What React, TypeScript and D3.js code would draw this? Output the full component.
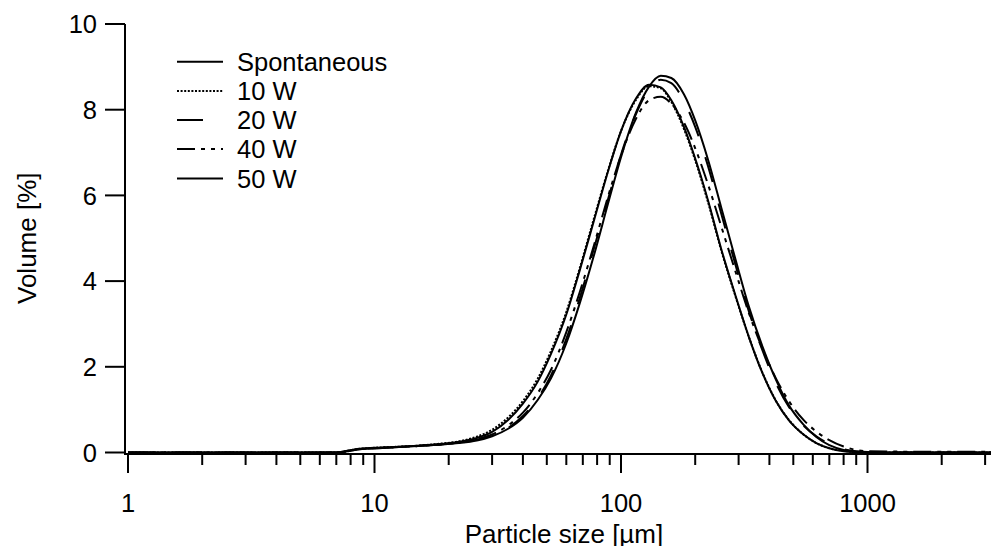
import React from "react";
import * as d3 from "d3";

const sizes = [1, 2, 4, 6, 7, 7.6, 8.5, 10, 12, 15, 18, 22, 26, 30, 35, 40, 46, 52, 60, 68, 78, 89, 100, 115, 130, 145, 160, 180, 200, 225, 255, 290, 330, 375, 425, 480, 550, 620, 700, 800, 900, 1000, 1500, 2000, 3000, 3500];

const spontaneous = [0, 0, 0, 0, 0, 0.03, 0.08, 0.11, 0.13, 0.16, 0.19, 0.25, 0.34, 0.48, 0.77, 1.14, 1.66, 2.3, 3.22, 4.25, 5.45, 6.6, 7.5, 8.26, 8.58, 8.52, 8.22, 7.6, 6.86, 5.9, 4.75, 3.7, 2.7, 1.85, 1.2, 0.75, 0.42, 0.22, 0.1, 0.03, 0.01, 0, 0, 0, 0, 0];
const w10 = [0, 0, 0, 0, 0, 0.03, 0.08, 0.11, 0.13, 0.16, 0.2, 0.26, 0.37, 0.53, 0.83, 1.2, 1.73, 2.37, 3.28, 4.3, 5.5, 6.62, 7.5, 8.23, 8.55, 8.5, 8.18, 7.55, 6.82, 5.86, 4.72, 3.68, 2.7, 1.86, 1.21, 0.76, 0.42, 0.22, 0.1, 0.04, 0.01, 0, 0, 0, 0, 0];
const w20 = [0, 0, 0, 0, 0, 0.02, 0.07, 0.1, 0.12, 0.15, 0.18, 0.22, 0.3, 0.4, 0.58, 0.85, 1.27, 1.8, 2.65, 3.6, 4.8, 5.95, 6.95, 7.9, 8.48, 8.7, 8.62, 8.2, 7.6, 6.7, 5.58, 4.42, 3.3, 2.38, 1.62, 1.06, 0.63, 0.38, 0.2, 0.08, 0.03, 0.01, 0, 0, 0, 0];
const w40 = [0, 0, 0, 0, 0, 0.02, 0.07, 0.1, 0.12, 0.15, 0.18, 0.23, 0.31, 0.42, 0.64, 0.93, 1.39, 1.93, 2.81, 3.74, 4.87, 6.01, 6.93, 7.79, 8.22, 8.3, 8.14, 7.7, 7.1, 6.27, 5.28, 4.26, 3.26, 2.42, 1.73, 1.2, 0.76, 0.49, 0.29, 0.14, 0.06, 0.03, 0.02, 0.02, 0.02, 0.02];
const w50 = [0, 0, 0, 0, 0, 0.02, 0.07, 0.1, 0.12, 0.15, 0.18, 0.22, 0.28, 0.38, 0.56, 0.81, 1.23, 1.73, 2.55, 3.48, 4.64, 5.85, 6.89, 7.93, 8.54, 8.79, 8.74, 8.36, 7.75, 6.85, 5.72, 4.55, 3.41, 2.47, 1.7, 1.1, 0.65, 0.36, 0.17, 0.06, 0.02, 0, 0, 0, 0, 0];

const seriesNames = ["Spontaneous", "10 W", "20 W", "40 W", "50 W"];
const seriesValues = [spontaneous, w10, w20, w40, w50];
const dashes = ["none", "2,1.6", "26,22", "18,6,4,6,4,6", "none"];

const yTicks = [0, 2, 4, 6, 8, 10];
const xMajor = [1, 10, 100, 1000];

const W = 991;
const H = 546;
const FONT = "'Liberation Sans', Arial, sans-serif";

export default function App() {
  const x = d3.scaleLog().domain([1, 1000]).range([128, 867.5]);
  const y = d3.scaleLinear().domain([0, 10]).range([452.5, 24]);
  const axisY = 454;
  const axisX = 125;

  const minor: number[] = [];
  for (const dec of [1, 10, 100, 1000]) {
    for (let k = 2; k <= 9; k++) {
      const v = dec * k;
      if (x(v) <= W) minor.push(v);
    }
  }

  const line = d3
    .line<[number, number]>()
    .x((d) => x(d[0]))
    .y((d) => y(d[1]))
    .curve(d3.curveMonotoneX);

  const legendY = [61.7, 91, 120, 149, 178.5];

  return (
    <svg
      width={W}
      height={H}
      style={{ position: "fixed", left: 0, top: 0, background: "#fff" }}
      fontFamily={FONT}
    >
      <rect x={0} y={0} width={W} height={H} fill="#fff" />
      {seriesValues.map((vals, i) => (
        <path
          key={seriesNames[i]}
          d={line(sizes.map((s, j) => [s, vals[j]] as [number, number])) || ""}
          fill="none"
          stroke="#000"
          strokeWidth={2}
          strokeDasharray={dashes[i]}
        />
      ))}
      <line x1={axisX} x2={axisX} y1={y(10)} y2={axisY + 1} stroke="#000" strokeWidth={2} />
      <line x1={axisX - 1} x2={W} y1={axisY} y2={axisY} stroke="#000" strokeWidth={2} />
      {yTicks.map((t) => (
        <g key={t}>
          <line x1={105} x2={axisX} y1={y(t)} y2={y(t)} stroke="#000" strokeWidth={2} />
          <text x={97} y={y(t)} dy="0.36em" textAnchor="end" fontSize={25.5}>
            {t}
          </text>
        </g>
      ))}
      {xMajor.map((t) => (
        <g key={t}>
          <line x1={x(t)} x2={x(t)} y1={axisY} y2={473} stroke="#000" strokeWidth={2} />
          <text x={x(t)} y={511.5} textAnchor="middle" fontSize={25.5}>
            {t}
          </text>
        </g>
      ))}
      {minor.map((t) => (
        <line key={t} x1={x(t)} x2={x(t)} y1={axisY} y2={465} stroke="#000" strokeWidth={2} />
      ))}
      <text x={564} y={543} textAnchor="middle" fontSize={26}>
        Particle size [µm]
      </text>
      <text
        transform={`translate(35.5, ${(y(10) + y(0)) / 2}) rotate(-90)`}
        textAnchor="middle"
        fontSize={26}
      >
        Volume [%]
      </text>
      {seriesNames.map((n, i) => (
        <g key={n}>
          <line
            x1={177}
            x2={223}
            y1={legendY[i]}
            y2={legendY[i]}
            stroke="#000"
            strokeWidth={2}
            strokeDasharray={dashes[i]}
          />
          <text x={237} y={legendY[i]} dy="0.36em" fontSize={25.5}>
            {n}
          </text>
        </g>
      ))}
    </svg>
  );
}
